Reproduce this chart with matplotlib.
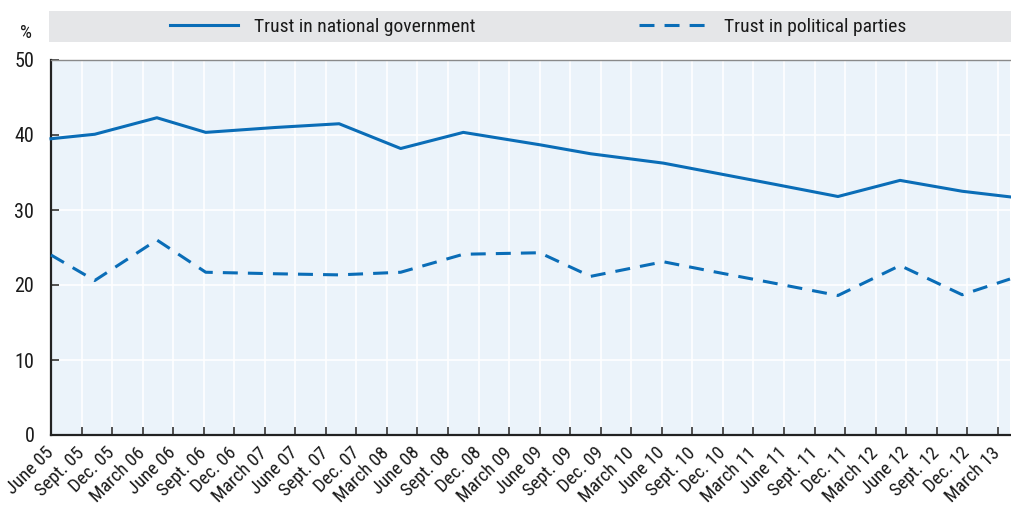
import matplotlib
matplotlib.use("Agg")
import matplotlib.pyplot as plt
from matplotlib.patches import Rectangle
from matplotlib import font_manager

# ---------------- data ----------------
tick_labels = ["June 05", "Sept. 05", "Dec. 05", "March 06", "June 06", "Sept. 06",
               "Dec. 06", "March 07", "June 07", "Sept. 07", "Dec. 07", "March 08",
               "June 08", "Sept. 08", "Dec. 08", "March 09", "June 09", "Sept. 09",
               "Dec. 09", "March 10", "June 10", "Sept. 10", "Dec. 10", "March 11",
               "June 11", "Sept. 11", "Dec. 11", "March 12", "June 12", "Sept. 12",
               "Dec. 12", "March 13"]
# survey dates, in months since June 2005
survey_month = [0, 4.3, 10.4, 15.2, 22.0, 28.3, 34.35, 40.5, 48.0, 53.0,
                60.15, 65.0, 71.0, 77.3, 83.4, 89.5, 94.2]
trust_government = [39.5, 40.1, 42.3, 40.35, 41.0, 41.5, 38.2, 40.35, 38.7, 37.5,
                    36.25, 35.0, 33.45, 31.8, 33.95, 32.5, 31.75]
trust_parties = [24.0, 20.6, 26.0, 21.7, 21.5, 21.35, 21.7, 24.1, 24.3, 21.15,
                 23.1, 21.8, 20.25, 18.6, 22.6, 18.7, 20.8]
y_ticks = [0, 10, 20, 30, 40, 50]

# ---------------- font ----------------
fonts = font_manager.fontManager.ttflist
names = {f.name for f in fonts}
condensed = [f for f in fonts if f.name == "DejaVu Sans" and "ondensed" in str(f.stretch) + f.fname
             and f.weight in (400, "normal") and f.style == "normal"]
fprop = None
for nm in ["Liberation Sans Narrow", "Roboto Condensed", "Open Sans Condensed"]:
    if nm in names:
        fprop = dict(family=nm)
        break
if fprop is None and condensed:
    fpath = condensed[0].fname
else:
    fpath = None


def fp(size):
    if fprop is not None:
        return font_manager.FontProperties(family=fprop["family"], size=size)
    if fpath is not None:
        return font_manager.FontProperties(fname=fpath, size=size)
    return font_manager.FontProperties(family="DejaVu Sans", size=size, stretch="condensed")


blue = "#0A6DB7"
txt = "#1a1a1a"
W, H = 1011, 507
fig = plt.figure(figsize=(W / 100, H / 100), dpi=100)
ax = fig.add_axes([51 / W, (H - 435) / H, (1010 - 51) / W, (435 - 60) / H])
ax.set_facecolor("#EBF3FA")

x_ticks = [3 * i for i in range(len(tick_labels))]

ax.plot(survey_month, trust_government, color=blue, lw=2.2,
        label="Trust in national government", zorder=3, clip_on=False)
ax.plot(survey_month, trust_parties, color=blue, lw=2.2, linestyle=(0, (4.9, 3.3)),
        label="Trust in political parties", zorder=3, clip_on=False)

ax.set_xlim(0, 94.2)
ax.set_ylim(0, 50)
ax.set_yticks(y_ticks)
ax.set_yticklabels([str(v) for v in y_ticks], fontproperties=fp(14.5), color=txt)
ax.set_xticks(x_ticks)
ax.set_xticklabels(tick_labels, rotation=45, ha="right", rotation_mode="anchor",
                   va="center", fontproperties=fp(13.5), color=txt)
ax.tick_params(axis="y", direction="in", length=6, width=1.2, color="#333333", pad=12)
ax.tick_params(axis="x", direction="in", length=6, width=1.2, color="#333333", pad=11)
ax.grid(True, color="white", lw=1.2, zorder=0)
ax.set_axisbelow(True)

ax.spines["right"].set_visible(False)
ax.spines["top"].set_color("#8a8a8a")
ax.spines["top"].set_linewidth(1.0)
for s in ["left", "bottom"]:
    ax.spines[s].set_color("#222222")
    ax.spines[s].set_linewidth(1.6)

# legend band
fig.patches.append(Rectangle((49 / W, 1 - 42 / H), (W - 49) / W, 31 / H,
                             transform=fig.transFigure, facecolor="#E5E6E8",
                             edgecolor="none", zorder=0))
leg = fig.legend(loc="center", bbox_to_anchor=(538 / W, 1 - 26.5 / H), ncol=2,
                 frameon=False, prop=fp(14), handlelength=3.5, handletextpad=0.85,
                 columnspacing=8.4, labelcolor=txt)

fig.text(26 / W, 1 - 33 / H, "%", ha="center", va="center", fontproperties=fp(13.5), color=txt)

fig.savefig("out.png", dpi=100)
